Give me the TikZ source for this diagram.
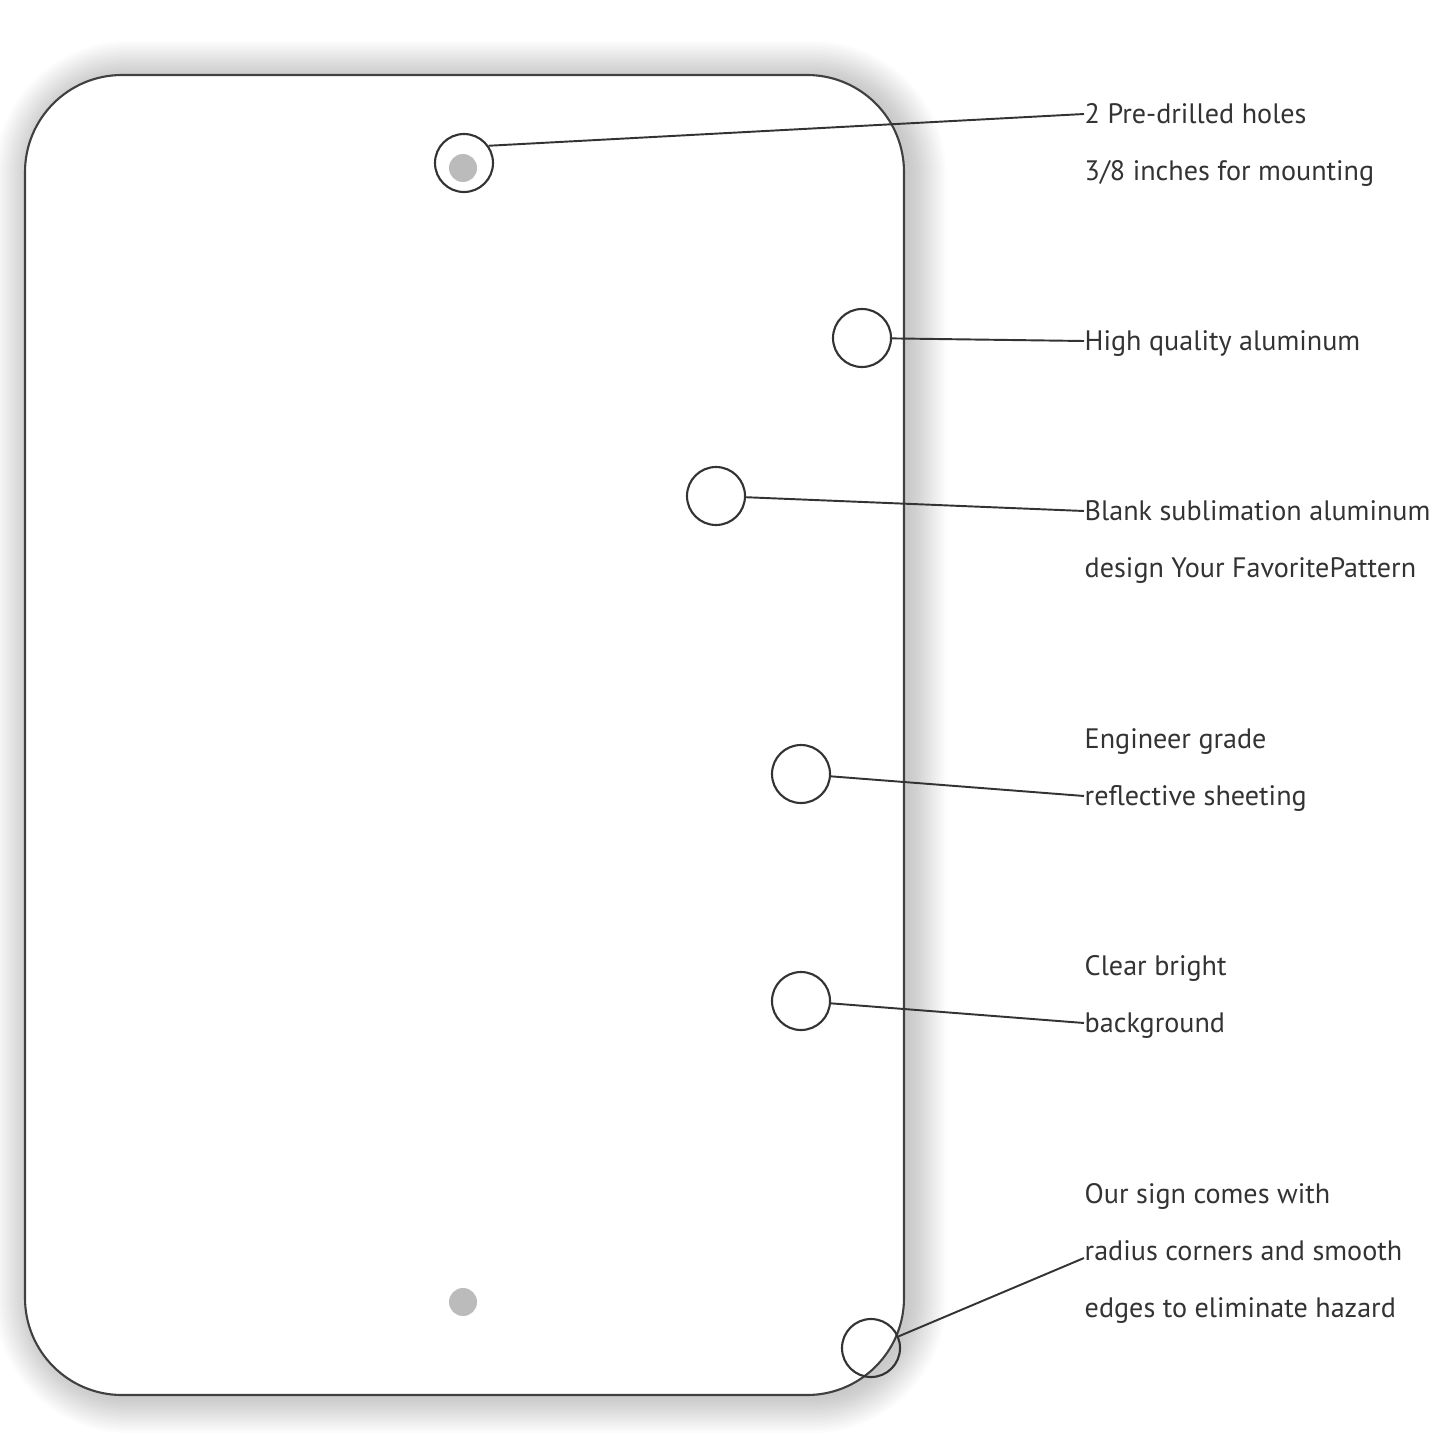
\documentclass[tikz,border=0pt]{standalone}
\usepackage{fontspec}
\setmainfont{PT Sans}
\usepackage{xcolor}
\definecolor{SignEdge}{HTML}{404040}
\definecolor{CalloutInk}{HTML}{333333}
\definecolor{HoleGray}{HTML}{BBBBBB}

\begin{document}
\begin{tikzpicture}[x=0.1mm,y=-0.1mm,
  callout/.style={circle,draw=CalloutInk,line width=0.6pt,minimum size=5.8mm,inner sep=0pt},
  hole/.style={circle,fill=HoleGray,minimum size=2.8mm,inner sep=0pt},
  feature/.style={anchor=west,inner sep=0pt,text height=1.9mm,text depth=0pt,
    text=CalloutInk,font=\fontsize{8}{9.5}\selectfont},
  leader/.style={CalloutInk,line width=0.55pt}]
  \useasboundingbox (0,0) rectangle (1445,1445);
  % soft shadow behind the sign
  \foreach \s in {0,2,...,36} {
    \pgfmathsetmacro\rad{9.7+\s*0.1}
    \fill[black,opacity=0.0105,rounded corners=\rad mm]
      ({31-\s},{77-\s}) rectangle ({910+\s},{1397+\s});
  }
  \draw[SignEdge,line width=0.6pt,fill=white,rounded corners=9.7mm] (25,75) rectangle (904,1395);
  % mounting holes
  \node[hole] (tophole) at (463,168) {};
  \node[hole] (bottomhole) at (463,1302) {};
  % callout rings
  \node[callout] (holering) at (464,163) {};
  \node[callout] (edgering) at (862,338) {};
  \node[callout] (facering) at (716,496) {};
  \node[callout] (sheetring) at (801,774) {};
  \node[callout] (backring) at (801,1001) {};
  \node[callout] (cornerring) at (871,1348) {};
  % feature texts
  \node[feature] (holes1) at (1084,114) {2 Pre-drilled holes};
  \node[feature] (holes2) at (1084,171) {3/8 inches for mounting};
  \node[feature] (alum) at (1084,341) {High quality aluminum};
  \node[feature] (blank1) at (1084,511) {Blank sublimation aluminum};
  \node[feature] (blank2) at (1084,568) {design Your FavoritePattern};
  \node[feature] (eng1) at (1084,739) {Engineer grade};
  \node[feature] (eng2) at (1084,796) {reflective sheeting};
  \node[feature] (clear1) at (1084,966) {Clear bright};
  \node[feature] (clear2) at (1084,1023) {background};
  \node[feature] (sign1) at (1084,1194) {Our sign comes with};
  \node[feature] (sign2) at (1084,1251) {radius corners and smooth};
  \node[feature] (sign3) at (1084,1308) {edges to eliminate hazard};
  % leaders
  \draw[leader] (holering.35) -- (holes1.west);
  \draw[leader] (edgering) -- (alum.west);
  \draw[leader] (facering) -- (blank1.west);
  \draw[leader] (sheetring) -- (eng2.west);
  \draw[leader] (backring) -- (clear2.west);
  \draw[leader] (cornerring) -- ([yshift=-0.7mm]sign2.west);
\end{tikzpicture}
\end{document}
